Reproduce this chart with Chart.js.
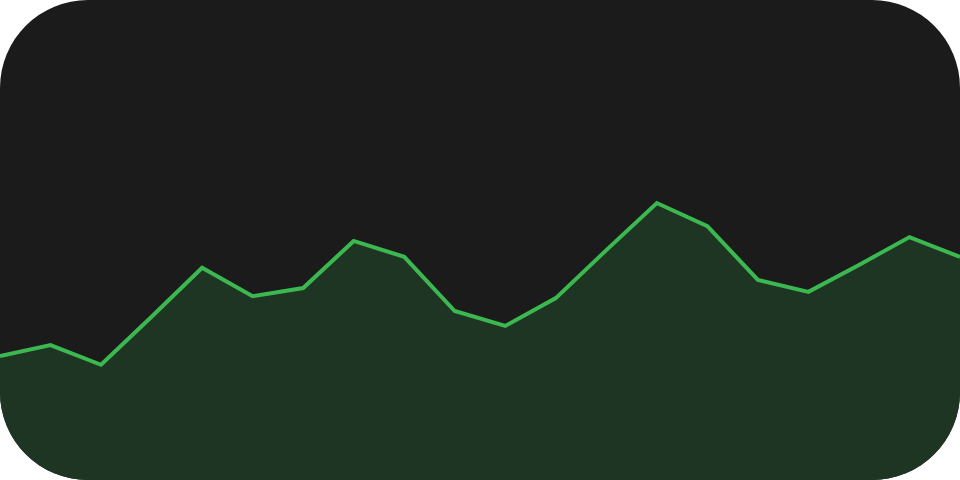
<!DOCTYPE html>
<html>
<head>
<meta charset="utf-8">
<script src="https://cdn.jsdelivr.net/npm/chart.js@4"></script>
<style>
    html, body { margin: 0; padding: 0; background: #ffffff; }
    .card {
        width: 960px;
        height: 480px;
        background: #1b1b1b;
        border-radius: 88px;
        overflow: hidden;
        position: relative;
    }
    canvas { display: block; }
</style>
</head>
<body>
<div class="card">
    <canvas id="grafico" width="960" height="480"></canvas>
</div>
<script>
// valores (escala 0-100)
const rotulos = ['1', '2', '3', '4', '5', '6', '7', '8', '9', '10',
                 '11', '12', '13', '14', '15', '16', '17', '18', '19', '20'];
const valores = [25.8, 28.1, 24.0, 34.0, 44.2, 38.3, 40.0, 49.8, 46.5, 35.2,
                 32.1, 37.9, 47.9, 57.7, 52.9, 41.7, 39.2, 44.8, 50.6, 46.5];
const eixoMin = 0;
const eixoMax = 100;

const ctx = document.getElementById('grafico').getContext('2d');

new Chart(ctx, {
    type: 'line',
    data: {
        labels: rotulos,
        datasets: [{
            data: valores,
            borderColor: '#3bb84f',
            borderWidth: 4,
            backgroundColor: '#1f3524',
            fill: 'start',
            tension: 0,
            pointRadius: 0,
            borderJoinStyle: 'miter'
        }]
    },
    options: {
        responsive: false,
        animation: false,
        layout: { padding: 0 },
        plugins: {
            legend: { display: false },
            tooltip: { enabled: false }
        },
        scales: {
            x: { display: false, offset: false },
            y: { display: false, min: eixoMin, max: eixoMax }
        }
    }
});
</script>
</body>
</html>
